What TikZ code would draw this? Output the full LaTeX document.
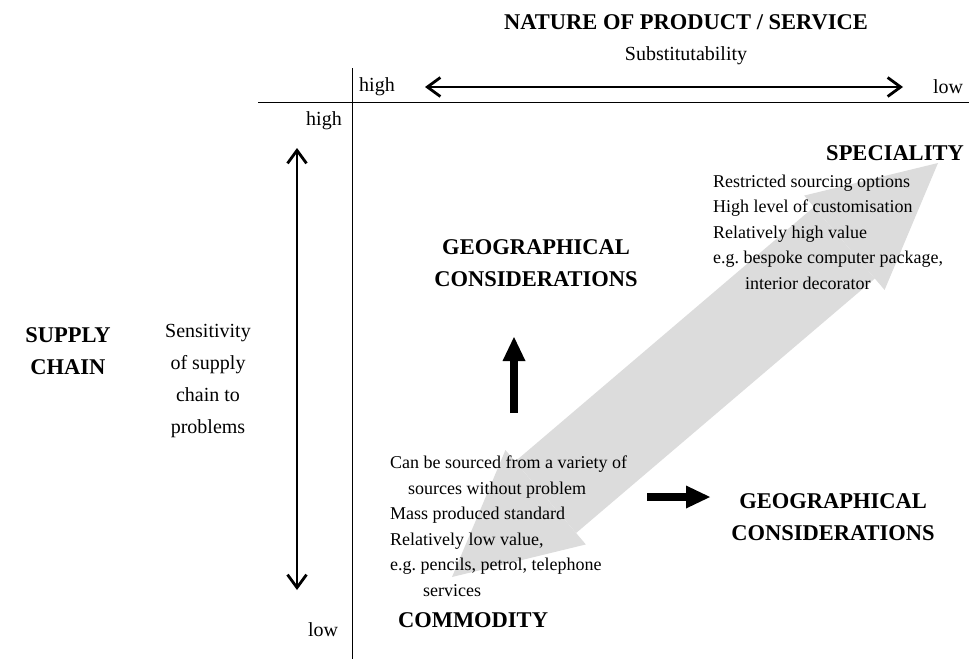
\documentclass[tikz,border=0pt]{standalone}
\usepackage{fontspec}
\setmainfont{Liberation Serif}
\usepackage{tikz}
\usetikzlibrary{arrows.meta}
\definecolor{bandgrey}{RGB}{220,220,220}

\begin{document}
\begin{tikzpicture}[x=1pt,y=-1pt]
    \tikzstyle{every node} = [inner sep=0pt, font=\fontsize{20}{32}\selectfont]
    \tikzstyle{heading} = [font=\fontsize{22.5}{32}\selectfont\bfseries, align=center]
    \tikzstyle{notes} = [font=\fontsize{18}{25.5}\selectfont, align=left, anchor=west]
    \tikzstyle{scale arrow} = [line width=2.8pt, {Straight Barb[length=13pt,width=19pt]}-{Straight Barb[length=13pt,width=19pt]}]
    \tikzstyle{block arrow} = [line width=8.5pt, -{Triangle[length=24pt,width=23pt,line width=0pt]}]
    \tikzstyle{band} = [bandgrey, line width=94pt, {Triangle[length=123pt,width=124pt,line width=0pt]}-{Triangle[length=123pt,width=124pt,line width=0pt]}]
    \useasboundingbox (0,0) rectangle (969,659);
    % axes
    \draw[line width=1pt] (258,102) -- (969,102);
    \draw[line width=1pt] (352,68) -- (352,659);
    % end points of the arrows
    \coordinate (commTip) at (452,577);
    \coordinate (specTip) at (938,163);
    \coordinate (subLeft) at (425,87);
    \coordinate (subRight) at (903,87);
    \coordinate (sensTop) at (297,148);
    \coordinate (sensBot) at (297,590);
    \coordinate (upFoot) at (514,413);
    \coordinate (upTip) at (514,337);
    \coordinate (rightFoot) at (647,497);
    \coordinate (rightTip) at (710,497);
    % grey band between commodity and speciality
    \draw[band] (commTip) -- (specTip);
    % place nodes
    \node[heading] (nature) at (686,22) {NATURE OF PRODUCT / SERVICE};
    \node (subst) at (686,56) {Substitutability};
    \node (hiSub) at (377,87) {high};
    \node (loSub) at (948,87) {low};
    \node (hiSens) at (324,121) {high};
    \node (loSens) at (323,630) {low};
    \node[heading] (supply) at (68,351) {SUPPLY\\CHAIN};
    \node[align=center] (sens) at (208,381) {Sensitivity\\of supply\\chain to\\problems};
    \node[heading] (geoUp) at (536,263) {GEOGRAPHICAL\\CONSIDERATIONS};
    \node[heading] (geoRight) at (833,517) {GEOGRAPHICAL\\CONSIDERATIONS};
    \node[heading] (spec) at (895,153) {SPECIALITY};
    \node[notes] (specNotes) at (713,232) {Restricted sourcing options\\High level of customisation\\Relatively high value\\e.g.\ bespoke computer package,\\\hspace*{32pt}interior decorator};
    \node[notes] (commNotes) at (390,526) {Can be sourced from a variety of\\\hspace*{18pt}sources without problem\\Mass produced standard\\Relatively low value,\\e.g.\ pencils, petrol, telephone\\\hspace*{33pt}services};
    \node[heading] (comm) at (473,620) {COMMODITY};
    % Connections
    \draw[scale arrow] (subLeft) -- (subRight);
    \draw[scale arrow] (sensTop) -- (sensBot);
    \draw[block arrow] (upFoot) -- (upTip);
    \draw[block arrow] (rightFoot) -- (rightTip);
\end{tikzpicture}
\end{document}
